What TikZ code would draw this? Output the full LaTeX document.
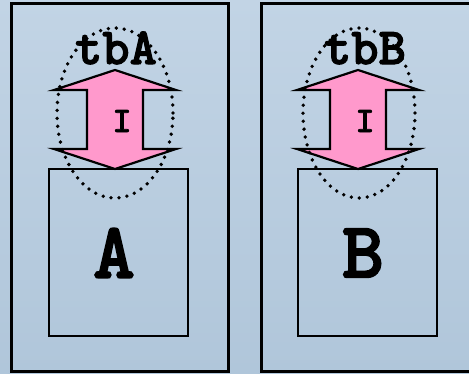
\documentclass[tikz,border=0pt]{standalone}
\usepackage{fontspec}
\newfontfamily\heavytt{lmmonolt10-bold.otf}[FakeBold=2]
\usetikzlibrary{shapes}
\usetikzlibrary{positioning}

\definecolor{sky}{RGB}{176,198,218}
\definecolor{skylight}{RGB}{194,212,229}
\definecolor{pipe}{RGB}{255,153,204}

\begin{document}
\begin{tikzpicture}[x=1pt, y=-1pt,
  every node/.style={inner sep=0pt, font=\heavytt},
  frame/.style={draw, rectangle, line width=3pt},
  core/.style={draw, rectangle, line width=2.2pt},
  bound/.style={draw, ellipse, line width=3.8pt, line cap=round, dash pattern=on 0pt off 8pt},
  flow/.style={draw, fill=pipe, line width=2.2pt, line join=miter}]
\useasboundingbox (0,0) rectangle (469,373);
\clip (0,0) rectangle (469,373);
\shade[top color=skylight, bottom color=sky] (0,0) rectangle (469,373);

% the two outer frames
\node[frame, minimum width=217pt, minimum height=368pt] (FA) at (120,187) {};
\node[frame, minimum width=217pt, minimum height=368pt] (FB) at (369.5,187) {};

% the inner components
\node[core, minimum width=139pt, minimum height=167pt] (A) at (118.5,252.5) {};
\node[core, minimum width=139pt, minimum height=167pt] (B) at (367.5,252.5) {};
\node[font=\heavytt\fontsize{80}{80}\selectfont] (nameA) at (114,253) {A};
\node[font=\heavytt\fontsize{80}{80}\selectfont] (nameB) at (363,253) {B};

% double arrows sitting on top of each component
\coordinate (tipA) at (115,169);
\coordinate (tipB) at (358,169);
\draw[flow] (tipA) -- ++(-61,-20) -- ++(33,0) -- ++(0,-59) -- ++(-33,0)
  -- ++(61,-20) -- ++(61,20) -- ++(-33,0) -- ++(0,59) -- ++(33,0) -- cycle;
\draw[flow] (tipB) -- ++(-61,-20) -- ++(33,0) -- ++(0,-59) -- ++(-33,0)
  -- ++(61,-20) -- ++(61,20) -- ++(-33,0) -- ++(0,59) -- ++(33,0) -- cycle;
\node[font=\heavytt\fontsize{36}{36}\selectfont] (IA) at (122,121) {I};
\node[font=\heavytt\fontsize{36}{36}\selectfont] (IB) at (365,121) {I};

% testbench boundaries
\node[bound, minimum width=116pt, minimum height=170pt] (EA) at (115,113) {};
\node[bound, minimum width=112pt, minimum height=170pt] (EB) at (359,113) {};
\node[font=\heavytt\fontsize{52}{52}\selectfont, anchor=base] (tbA) at (116,64) {tbA};
\node[font=\heavytt\fontsize{52}{52}\selectfont, anchor=base] (tbB) at (365,64) {tbB};
\end{tikzpicture}
\end{document}
